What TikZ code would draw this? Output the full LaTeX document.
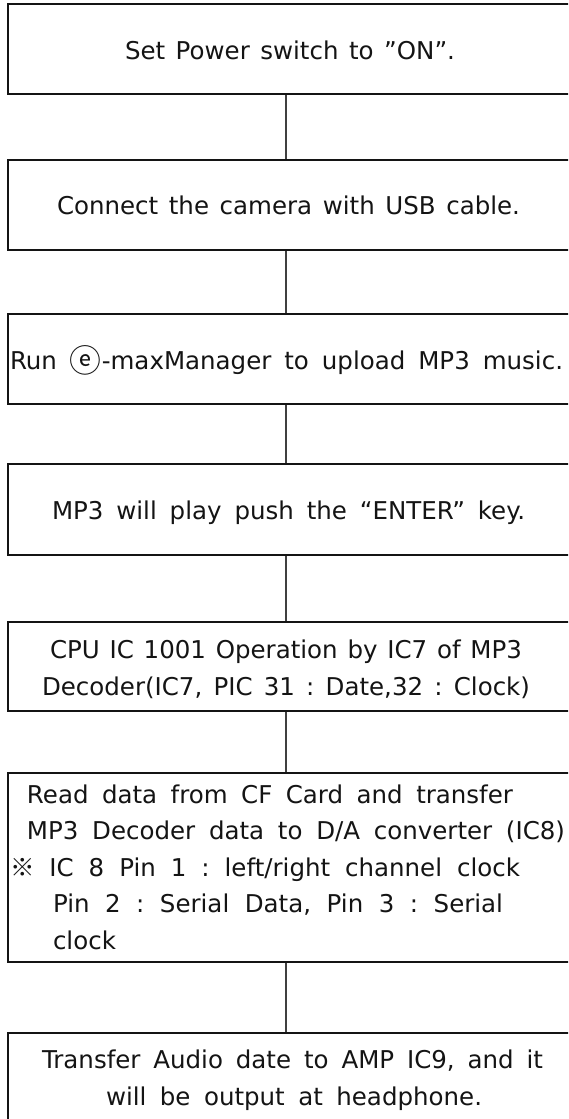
\documentclass[tikz,border=0pt]{standalone}
\usepackage{fontspec}
\setmainfont{DejaVu Sans}
\newfontfamily\cjkfont{Noto Sans CJK KR}
% one printed line, spread to a given width (in pt)
\newcommand\spreadline[2]{\makebox[#1pt][s]{#2}}
% enclosed letter and reference mark taken from the Korean face
\newcommand\circE{{\cjkfont\raisebox{-0.14em}{\scalebox{1.3}{ⓔ}}}}
\newcommand\refmark{{\cjkfont ※}}
\frenchspacing
\begin{document}
\begin{tikzpicture}[x=1pt,y=-1pt,
  stage/.style={draw=black!92, line width=1.6pt, rectangle, minimum width=566pt, inner sep=0pt},
  link/.style={draw=black!75, line width=1.3pt},
  ln/.style={anchor=base west, inner sep=0pt, outer sep=0pt, text=black!92,
             font=\fontsize{24.5}{28}\selectfont\frenchspacing}]
\useasboundingbox (0,0) rectangle (568,1119);
\clip (0,0) rectangle (568,1119);
\fill[white] (0,0) rectangle (568,1119);
\coordinate (axis) at (286,0);

% process boxes (right side runs past the page edge)
\node[stage, minimum height=90pt] (s1) at (291,49) {};
\node[stage, minimum height=90pt] (s2) at (291,205) {};
\node[stage, minimum height=90pt] (s3) at (291,359) {};
\node[stage, minimum height=91pt] (s4) at (291,509.5) {};
\node[stage, minimum height=89pt] (s5) at (291,666.5) {};
\node[stage, minimum height=189pt] (s6) at (291,867.5) {};
\node[stage, minimum height=95pt] (s7) at (291,1080.5) {};

% vertical links between the boxes
\draw[link] (s1.south -| axis) -- (s2.north -| axis);
\draw[link] (s2.south -| axis) -- (s3.north -| axis);
\draw[link] (s3.south -| axis) -- (s4.north -| axis);
\draw[link] (s4.south -| axis) -- (s5.north -| axis);
\draw[link] (s5.south -| axis) -- (s6.north -| axis);
\draw[link] (s6.south -| axis) -- (s7.north -| axis);

% box texts
\node[ln] (t1) at (125,59.5) {\spreadline{330}{Set Power switch to ”ON”.}};
\node[ln] (t2) at (57,214.5) {\spreadline{463}{Connect the camera with USB cable.}};
\node[ln] (t3) at (10,369.5) {\spreadline{553}{Run \circE-maxManager to upload MP3 music.}};
\node[ln] (t4) at (52,519.5) {\spreadline{473}{MP3 will play push the “ENTER” key.}};
\node[ln] (t5a) at (50,658.5) {\spreadline{472}{CPU IC 1001 Operation by IC7 of MP3}};
\node[ln] (t5b) at (42,695) {\spreadline{488}{Decoder(IC7, PIC 31 : Date,32 : Clock)}};
\node[ln] (t6a) at (27,803) {\spreadline{486}{Read data from CF Card and transfer}};
\node[ln] (t6b) at (27,839.5) {\spreadline{538}{MP3 Decoder data to D/A converter (IC8)}};
\node[ln] (t6c) at (10,876) {\spreadline{510}{\refmark{} IC 8 Pin 1 : left/right channel clock}};
\node[ln] (t6d) at (53,912.5) {\spreadline{450}{Pin 2 : Serial Data, Pin 3 : Serial}};
\node[ln] (t6e) at (53,949) {clock};
\node[ln] (t7a) at (42,1068.5) {\spreadline{501}{Transfer Audio date to AMP IC9, and it}};
\node[ln] (t7b) at (106,1105) {\spreadline{376}{will be output at headphone.}};
\end{tikzpicture}
\end{document}
